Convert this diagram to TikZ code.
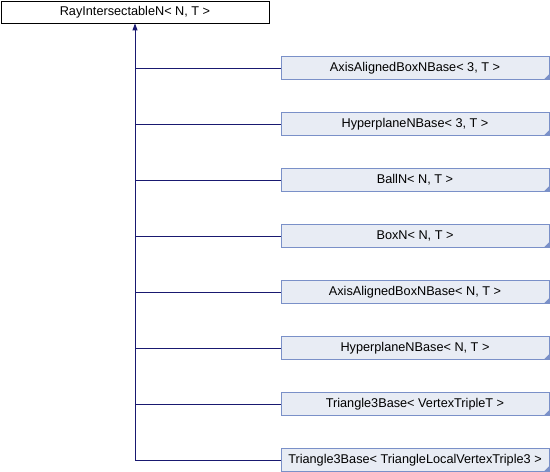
\documentclass[tikz,border=0pt]{standalone}
\usepackage{fontspec}
\setmainfont{Liberation Sans}
\usetikzlibrary{arrows.meta}
\definecolor{edgeblue}{RGB}{25,25,112}
\definecolor{boxfill}{RGB}{232,236,244}
\definecolor{boxline}{RGB}{122,144,200}
\tikzset{
  labelfont/.style={font=\fontsize{12.7}{15}\selectfont},
  rootbox/.style={draw=black, fill=white, line width=0.8pt, minimum width=268pt, minimum height=22pt, inner sep=0pt, labelfont},
  childbox/.style={draw=boxline, fill=boxfill, line width=0.8pt, minimum width=268pt, minimum height=23pt, inner sep=0pt, labelfont},
  inherit/.style={draw=edgeblue, line width=0.9pt},
}
\begin{document}
\begin{tikzpicture}[x=1pt,y=-1pt]
\useasboundingbox (0,0) rectangle (550,472);
\node[rootbox] (root) at (135,12) {RayIntersectableN< N, T >};
\foreach \i/\t in {0/{AxisAlignedBoxNBase< 3, T >},1/{HyperplaneNBase< 3, T >},2/{BallN< N, T >},3/{BoxN< N, T >},4/{AxisAlignedBoxNBase< N, T >},5/{HyperplaneNBase< N, T >},6/{Triangle3Base< VertexTripleT >},7/{Triangle3Base< TriangleLocalVertexTriple3 >}}{
  \node[childbox] (c\i) at (415,{68+56*\i}) {\t};
  \fill[boxline] (c\i.south east) -- ++(0,-6) -- ++(-6,6) -- cycle;
  \coordinate (j\i) at (135,{68+56*\i});
  \draw[inherit] (j\i) -- (c\i.west);
}
\draw[inherit, -{Triangle[length=7pt,width=5pt]}] (j7) -- (root.south);
\end{tikzpicture}
\end{document}
